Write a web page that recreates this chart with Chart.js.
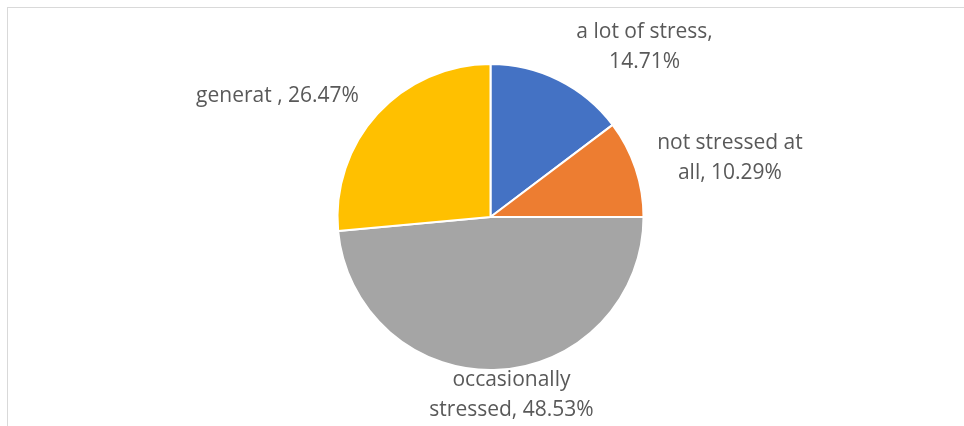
<!DOCTYPE html>
<html><head><meta charset="utf-8">
<script src="https://cdn.jsdelivr.net/npm/chart.js@4/dist/chart.umd.min.js"></script>
<style>
html,body{margin:0;padding:0;background:#fff;}
#wrap{position:relative;width:964px;height:426px;overflow:hidden;}
#frame{position:absolute;left:7px;top:7px;width:1200px;height:800px;border:1px solid #d9d9d9;}
canvas{position:absolute;left:0;top:0;}
</style></head>
<body><div id="wrap"><div id="frame"></div><canvas id="c" width="964" height="426"></canvas></div>
<script>
const categories = ["a lot of stress", "not stressed at all", "occasionally stressed", "generat "];
const values = [14.71, 10.29, 48.53, 26.47];
const colors = ["#4472c4", "#ed7d31", "#a5a5a5", "#ffc000"];
// label text lines ({v} = value)
const labelLines = [
  ["a lot of stress,", "{v}%"],
  ["not stressed at", "all, {v}%"],
  ["occasionally", "stressed, {v}%"],
  ["generat , {v}%"]
];
// label centres relative to pie centre, in units of radius
const labelPos = [[1.007, -1.112], [1.565, -0.388], [0.137, 1.166], [-1.392, -0.792]];

const labelPlugin = {
  id: 'outLabels',
  afterDatasetsDraw(chart) {
    const ctx = chart.ctx;
    const meta = chart.getDatasetMeta(0);
    ctx.save();
    ctx.fillStyle = '#595959';
    ctx.font = '21px "Open Sans", sans-serif';
    ctx.textAlign = 'center';
    ctx.textBaseline = 'middle';
    meta.data.forEach((arc, i) => {
      const r = arc.outerRadius;
      const x = arc.x + labelPos[i][0] * r;
      const y = arc.y + labelPos[i][1] * r;
      const lines = labelLines[i].map(s => s.replace('{v}', values[i].toFixed(2)));
      const lh = 30;
      const y0 = y - (lines.length - 1) * lh / 2;
      lines.forEach((s, k) => ctx.fillText(s, x, y0 + k * lh));
    });
    ctx.restore();
  }
};

new Chart(document.getElementById('c'), {
  type: 'pie',
  data: { labels: categories, datasets: [{ data: values, backgroundColor: colors, borderColor: '#ffffff', borderWidth: 2 }] },
  options: {
    responsive: false, animation: false, devicePixelRatio: 1,
    layout: { padding: { left: 336.5, right: 319.5, top: 63, bottom: 55 } },
    plugins: { legend: { display: false }, tooltip: { enabled: false } }
  },
  plugins: [labelPlugin]
});
</script></body></html>
